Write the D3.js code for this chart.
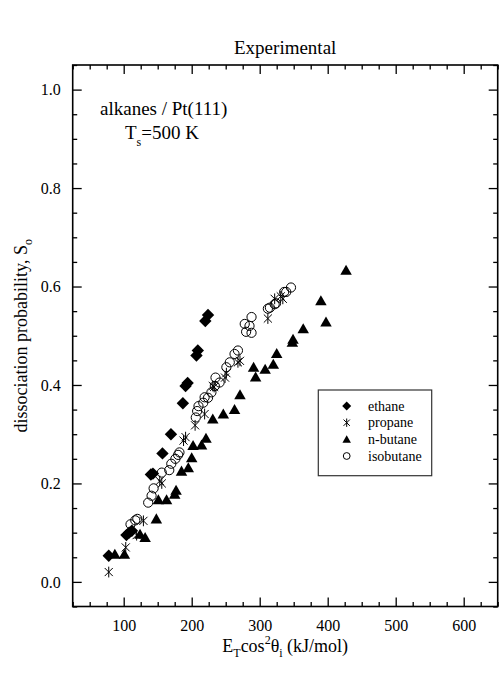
<!DOCTYPE html>
<html><head><meta charset="utf-8">
<script src="https://cdn.jsdelivr.net/npm/d3@7"></script>
<style>
body{margin:0;background:#fff}
svg{display:block}
text{font-family:"Liberation Serif","Times New Roman",serif;fill:#000}
</style>
</head><body>
<svg id="c" width="499" height="675"></svg>
<script>
// ---- data (E_T cos^2 theta_i in kJ/mol, dissociation probability S_o) ----
const ethaneE = [78, 104, 108, 112, 140, 143, 157, 169.5, 187, 191, 194, 207, 209, 220, 224];
const ethaneS = [0.053, 0.095, 0.1, 0.104, 0.218, 0.22, 0.261, 0.3, 0.363, 0.398, 0.404, 0.46, 0.47, 0.53, 0.542];

const propaneE = [78, 103, 119, 129, 153, 156, 188, 191, 205, 219, 231, 233, 249, 251, 268, 271, 312, 322, 331, 334];
const propaneS = [0.02, 0.07, 0.095, 0.124, 0.205, 0.2, 0.287, 0.294, 0.318, 0.341, 0.398, 0.396, 0.415, 0.424, 0.446, 0.449, 0.535, 0.575, 0.58, 0.575];

const nbutaneE = [87, 101, 124, 131.5, 148, 151, 163, 175, 177, 185, 195, 200, 202, 214.5, 221, 231, 246.5, 263, 271, 291, 294, 308, 320, 325, 348, 349, 364, 390, 397.5, 427];
const nbutaneS = [0.056, 0.056, 0.097, 0.09, 0.128, 0.167, 0.167, 0.178, 0.186, 0.225, 0.232, 0.252, 0.277, 0.278, 0.292, 0.331, 0.341, 0.35, 0.38, 0.436, 0.416, 0.432, 0.442, 0.464, 0.487, 0.493, 0.514, 0.571, 0.528, 0.633];

const isobutaneE = [110, 117, 120, 136, 141, 144, 156, 167, 170, 176, 180, 182, 206, 208, 210, 217, 219, 224, 229, 234, 235, 241, 251, 256, 263, 268, 278, 280, 285, 288, 288, 312, 315, 322, 324, 336, 339, 346];
const isobutaneS = [0.117, 0.125, 0.128, 0.161, 0.175, 0.19, 0.222, 0.227, 0.24, 0.25, 0.258, 0.263, 0.334, 0.347, 0.357, 0.364, 0.375, 0.374, 0.385, 0.398, 0.415, 0.405, 0.436, 0.446, 0.463, 0.47, 0.524, 0.508, 0.52, 0.538, 0.506, 0.555, 0.557, 0.564, 0.566, 0.589, 0.589, 0.598];

const seriesNames = ["ethane", "propane", "n-butane", "isobutane"];
const xMajorTicks = [100, 200, 300, 400, 500, 600];
const yMajorTicks = [0.0, 0.2, 0.4, 0.6, 0.8, 1.0];

// ---- layout ----
const L = 72.7, R = 497.7, T = 65, B = 606.5;
const svg = d3.select("#c");
const x = d3.scaleLinear().domain([25, 650]).range([L, R]);
const y = d3.scaleLinear().domain([-0.05, 1.05]).range([B, T]);

const xMinor = d3.range(25, 651, 25).filter(v => !xMajorTicks.includes(v));
const yMinor = d3.range(-0.05, 1.051, 0.05).map(v => +v.toFixed(2)).filter(v => !yMajorTicks.some(m => Math.abs(m - v) < 1e-6));

function styleAxis(g){
  g.select(".domain").remove();
  g.selectAll(".tick line").attr("stroke","#000").attr("stroke-width",1.3);
}
const MJ = 9, MN = 4.5;
// bottom
svg.append("g").attr("transform",`translate(0,${B})`)
  .call(d3.axisBottom(x).tickValues(xMajorTicks).tickSizeInner(-MJ).tickSizeOuter(0).tickPadding(MJ+4).tickFormat(d3.format("d")))
  .call(styleAxis)
  .call(g=>g.selectAll("text").attr("font-size",16).attr("font-family","Liberation Serif"));
svg.append("g").attr("transform",`translate(0,${B})`)
  .call(d3.axisBottom(x).tickValues(xMinor).tickSizeInner(-MN).tickSizeOuter(0).tickFormat(""))
  .call(styleAxis);
// top
svg.append("g").attr("transform",`translate(0,${T})`)
  .call(d3.axisTop(x).tickValues(xMajorTicks).tickSizeInner(-MJ).tickSizeOuter(0).tickFormat(""))
  .call(styleAxis);
svg.append("g").attr("transform",`translate(0,${T})`)
  .call(d3.axisTop(x).tickValues(xMinor).tickSizeInner(-MN).tickSizeOuter(0).tickFormat(""))
  .call(styleAxis);
// left
svg.append("g").attr("transform",`translate(${L},0)`)
  .call(d3.axisLeft(y).tickValues(yMajorTicks).tickSizeInner(-MJ).tickSizeOuter(0).tickPadding(12).tickFormat(d3.format(".1f")))
  .call(styleAxis)
  .call(g=>g.selectAll("text").attr("font-size",16).attr("font-family","Liberation Serif"));
svg.append("g").attr("transform",`translate(${L},0)`)
  .call(d3.axisLeft(y).tickValues(yMinor).tickSizeInner(-MN).tickSizeOuter(0).tickFormat(""))
  .call(styleAxis);
// right
svg.append("g").attr("transform",`translate(${R},0)`)
  .call(d3.axisRight(y).tickValues(yMajorTicks).tickSizeInner(-MJ).tickSizeOuter(0).tickFormat(""))
  .call(styleAxis);
svg.append("g").attr("transform",`translate(${R},0)`)
  .call(d3.axisRight(y).tickValues(yMinor).tickSizeInner(-MN).tickSizeOuter(0).tickFormat(""))
  .call(styleAxis);

// frame
svg.append("rect").attr("x",L).attr("y",T).attr("width",R-L).attr("height",B-T)
  .attr("fill","none").attr("stroke","#000").attr("stroke-width",1.6);

// ---- markers ----
function diamond(g, cx, cy, r){
  g.append("path").attr("d",`M${cx},${cy-r}L${cx+r},${cy}L${cx},${cy+r}L${cx-r},${cy}Z`).attr("fill","#000");
}
function triangle(g, cx, cy, s){
  const h = s*0.87;
  g.append("path").attr("d",`M${cx},${cy-h*0.55}L${cx+s/2},${cy+h*0.45}L${cx-s/2},${cy+h*0.45}Z`).attr("fill","#000");
}
function circle(g, cx, cy, r){
  g.append("circle").attr("cx",cx).attr("cy",cy).attr("r",r).attr("fill","none").attr("stroke","#000").attr("stroke-width",1);
}
function star(g, cx, cy, r){
  const d = r*0.75;
  g.append("path").attr("d",`M${cx},${cy-r}L${cx},${cy+r}M${cx-d},${cy-d}L${cx+d},${cy+d}M${cx-d},${cy+d}L${cx+d},${cy-d}`)
   .attr("stroke","#000").attr("stroke-width",1).attr("fill","none");
}

const plot = svg.append("g");
ethaneE.forEach((e,i)=>diamond(plot, x(e), y(ethaneS[i]), 6.2));
propaneE.forEach((e,i)=>star(plot, x(e), y(propaneS[i]), 5.4));
nbutaneE.forEach((e,i)=>triangle(plot, x(e), y(nbutaneS[i]), 11.5));
isobutaneE.forEach((e,i)=>circle(plot, x(e), y(isobutaneS[i]), 4.6));

// ---- legend ----
const lg = svg.append("g");
lg.append("rect").attr("x",318.3).attr("y",390).attr("width",113.4).attr("height",85.7)
  .attr("fill","#fff").attr("stroke","#333").attr("stroke-width",1.2);
const rows = [406, 422.7, 439.3, 456];
const drawers = [
  (cy)=>diamond(lg,346.7,cy,4.5),
  (cy)=>star(lg,346.7,cy,4.2),
  (cy)=>triangle(lg,346.7,cy,8.5),
  (cy)=>circle(lg,346.7,cy,3.4)
];
seriesNames.forEach((n,i)=>{
  drawers[i](rows[i]);
  lg.append("text").attr("x",368).attr("y",rows[i]+4.5).attr("font-size",14).text(n);
});

// ---- texts ----
svg.append("text").attr("x",(L+R)/2).attr("y",54).attr("text-anchor","middle").attr("font-size",19).text("Experimental");

svg.append("text").attr("x",100).attr("y",115).attr("font-size",19).text("alkanes / Pt(111)");
const ts = svg.append("text").attr("x",125).attr("y",139).attr("font-size",19);
ts.append("tspan").text("T");
ts.append("tspan").attr("font-size",12).attr("dy",7).text("s");
ts.append("tspan").attr("dy",-7).text("=500 K");

const yl = svg.append("text").attr("transform",`translate(27,${(T+B)/2}) rotate(-90)`)
  .attr("text-anchor","middle").attr("font-size",18);
yl.append("tspan").text("dissociation probability, S");
yl.append("tspan").attr("font-size",12).attr("dy",5).text("o");

const xl = svg.append("text").attr("x",(L+R)/2).attr("y",652).attr("text-anchor","middle").attr("font-size",18);
xl.append("tspan").text("E");
xl.append("tspan").attr("font-size",12).attr("dy",5).text("T");
xl.append("tspan").attr("dy",-5).text("cos");
xl.append("tspan").attr("font-size",12).attr("dy",-8).text("2");
xl.append("tspan").attr("dy",8).text("θ");
xl.append("tspan").attr("font-size",12).attr("dy",5).text("i");
xl.append("tspan").attr("dy",-5).text(" (kJ/mol)");
</script>
</body></html>
